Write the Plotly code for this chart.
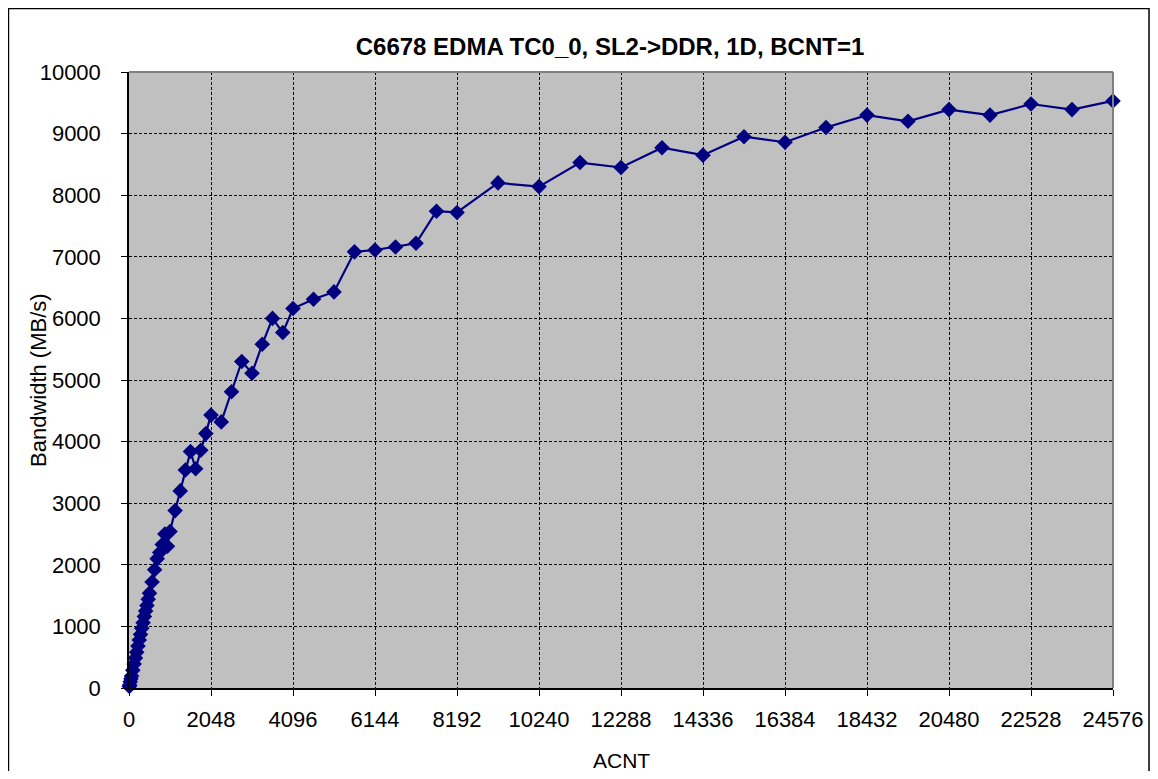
import plotly.graph_objects as go

acnt = [8, 16, 32, 48, 64, 96, 128, 160, 192, 224, 256, 288, 320, 352, 384,
        416, 448, 480, 512, 576, 640, 704, 768, 832, 896, 960, 1024,
        1152, 1280, 1408, 1536, 1664, 1792, 1920, 2048,
        2304, 2560, 2816, 3072, 3328, 3584, 3840, 4096,
        4608, 5120, 5632, 6144, 6656, 7168, 7680, 8192,
        9216, 10240, 11264, 12288, 13312, 14336, 15360, 16384,
        17408, 18432, 19456, 20480, 21504, 22528, 23552, 24576]
bandwidth = [25, 50, 100, 150, 195, 290, 390, 485, 580, 680, 780, 870, 970, 1060, 1160,
             1250, 1340, 1440, 1540, 1720, 1920, 2100, 2200, 2330, 2500, 2300, 2540,
             2880, 3200, 3540, 3840, 3560, 3860, 4130, 4430,
             4320, 4810, 5300, 5110, 5580, 6000, 5770, 6160,
             6310, 6430, 7080, 7110, 7160, 7220, 7740, 7720,
             8200, 8140, 8530, 8450, 8770, 8650, 8950, 8860,
             9100, 9300, 9200, 9390, 9300, 9480, 9390, 9530]

x_ticks = list(range(0, 24577, 2048))
y_ticks = list(range(0, 10001, 1000))

navy = "#000080"
font = "Liberation Sans, Arial, sans-serif"

fig = go.Figure()
fig.add_trace(go.Scatter(
    x=acnt, y=bandwidth, mode="lines+markers",
    line=dict(color=navy, width=2.2),
    marker=dict(symbol="diamond", size=12, color=navy),
    cliponaxis=False, showlegend=False
))

fig.update_xaxes(
    range=[0, 24576], tickvals=x_ticks, ticktext=[str(v) for v in x_ticks],
    showgrid=True, gridcolor="black", griddash="3px,2px", gridwidth=1,
    showline=True, linecolor="black", linewidth=1.5,
    ticks="outside", ticklen=6, tickcolor="black", ticklabelstandoff=5,
    zeroline=False, automargin=False,
    tickfont=dict(family=font, size=22, color="black"),
)
fig.update_yaxes(
    range=[0, 10000], tickvals=y_ticks, ticktext=[str(v) for v in y_ticks],
    showgrid=True, gridcolor="black", griddash="3px,2px", gridwidth=1,
    showline=True, linecolor="black", linewidth=1.5,
    ticks="outside", ticklen=6, tickcolor="black", ticklabelstandoff=16,
    zeroline=False, automargin=False,
    tickfont=dict(family=font, size=22, color="black"),
)

# axis titles as annotations (y title sits over the tick label column)
fig.add_annotation(text="ACNT", xref="paper", yref="paper", x=0.5, y=0,
                   xanchor="center", yanchor="middle", yshift=-72, showarrow=False,
                   font=dict(family=font, size=21, color="black"))
fig.add_annotation(text="Bandwidth (MB/s)", xref="paper", yref="paper", x=0, y=0.5,
                   xanchor="center", yanchor="middle", xshift=-91, textangle=-90,
                   showarrow=False, font=dict(family=font, size=22, color="black"))

# grey frame on top/right of plot area, black frame around whole chart
fig.add_shape(type="line", xref="paper", yref="paper", x0=0, x1=1, y0=1, y1=1,
              line=dict(color="#808080", width=2))
fig.add_shape(type="line", xref="paper", yref="paper", x0=1, x1=1, y0=0, y1=1,
              line=dict(color="#808080", width=2))
fig.add_shape(type="rect", xref="paper", yref="paper",
              x0=-0.1225, x1=1.0366, y0=-0.2, y1=1.1031,
              line=dict(color="black", width=1.5))

fig.update_layout(
    width=1142, height=763,
    plot_bgcolor="#C0C0C0", paper_bgcolor="white",
    margin=dict(l=121, r=37, t=64, b=83, autoexpand=False),
    title=dict(text="<b>C6678 EDMA TC0_0, SL2->DDR, 1D, BCNT=1</b>",
               font=dict(family=font, size=24, color="black"),
               x=(610 - 8) / 1142, xanchor="center",
               y=1 - (47 - 8) / 763, yanchor="middle"),
)

fig.write_html("out.html")
